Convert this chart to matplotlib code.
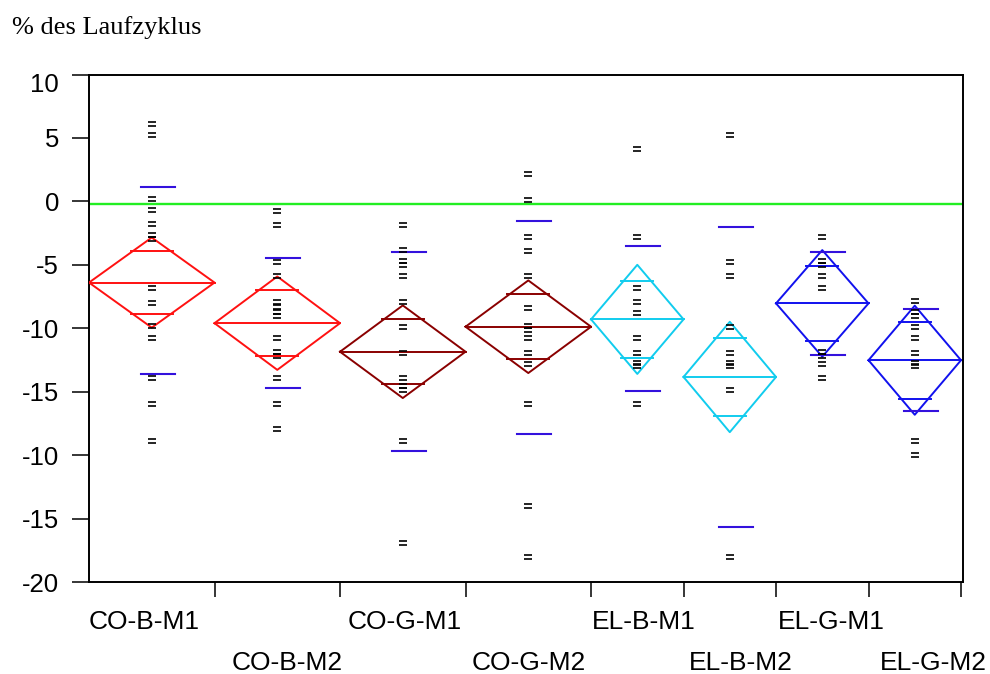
import matplotlib.pyplot as plt
import numpy as np
from matplotlib.path import Path
from matplotlib.transforms import ScaledTranslation

# data (JMP means diamonds)
groups = ['CO-B-M1', 'CO-B-M2', 'CO-G-M1', 'CO-G-M2',
          'EL-B-M1', 'EL-B-M2', 'EL-G-M1', 'EL-G-M2']
sizes = [19, 19, 19, 19, 14, 14, 14, 14]
means = [-6.4, -9.6, -11.85, -9.88, -9.3, -13.84, -8.04, -12.52]
ci_half = [3.55, 3.68, 3.65, 3.65, 4.3, 4.35, 4.2, 4.3]
sd_upper = [1.13, -4.44, -4.02, -1.54, -3.54, -2.01, -4.02, -8.48]
sd_lower = [-13.63, -14.74, -19.65, -18.3, -14.95, -25.7, -12.07, -16.53]
points = [
    [6.1, 5.2, 0.15, -0.7, -1.8, -2.65, -2.95, -6.85, -8.0, -9.85, -10.8,
     -13.95, -15.95, -18.85],
    [-0.75, -1.88, -4.79, -5.92, -7.9, -8.3, -8.7, -9.05, -10.78, -11.85,
     -12.15, -13.95, -15.95, -17.93],
    [-1.88, -3.86, -4.7, -5.0, -5.92, -7.93, -9.93, -11.94, -13.95,
     -14.55, -14.9, -18.86, -26.9],
    [2.16, 0.12, -2.78, -3.92, -5.92, -8.38, -9.8, -10.1, -10.8, -11.94,
     -12.84, -15.95, -24.0, -28.05],
    [4.14, -2.78, -6.82, -7.93, -8.8, -10.8, -11.94, -12.7, -13.0, -15.95],
    [5.27, -4.79, -5.92, -9.93, -11.94, -12.7, -13.0, -14.87, -28.02],
    [-2.78, -4.7, -5.0, -5.92, -6.82, -11.85, -12.15, -12.84, -13.95],
    [-7.87, -8.7, -9.05, -9.93, -10.8, -11.94, -12.7, -13.0, -18.86, -19.97],
]
ref_line = -0.2
y_ticks = [10, 5, 0, -5, -10, -15, -20, -25, -30]
y_labels = ['10', '5', '0', '-5', '-10', '-15', '-10', '-15', '-20']

colors = ['#ff1111', '#ff1111', '#8a0000', '#8a0000',
          '#11ccee', '#11ccee', '#1111ee', '#1111ee']
label_left_px = [89, 232, 348, 472, 592, 689, 778, 880]
label_row = [0, 1, 0, 1, 0, 1, 0, 1]

W, H = 990, 674
fig = plt.figure(figsize=(W / 100, H / 100), dpi=100)
ax = fig.add_axes([89 / W, (H - 582) / H, (963 - 89) / W, (582 - 74.5) / H])

total = sum(sizes)
px_per_unit = 872 / total
ax.set_xlim(0, 874 / px_per_unit)
ax.set_ylim(-30, 10)

# double-dash marker for points
eq_marker = Path([(-1, 0.45), (1, 0.45), (-1, -0.45), (1, -0.45)],
                 [Path.MOVETO, Path.LINETO, Path.MOVETO, Path.LINETO])

edges = np.concatenate([[0], np.cumsum(sizes)])
for i, g in enumerate(groups):
    left, right = edges[i], edges[i + 1]
    cx = (left + right) / 2
    hw = (right - left) / 2
    m, h, c = means[i], ci_half[i], colors[i]
    # diamond
    ax.plot([left, cx, right, cx, left], [m, m + h, m, m - h, m],
            color=c, lw=1.4, zorder=3)
    ax.plot([left, right], [m, m], color=c, lw=1.4, zorder=3)
    # overlap marks
    off = h / np.sqrt(2)
    half_w = hw * (1 - off / h) + 0.4
    for yy in (m + off, m - off):
        ax.plot([cx - half_w, cx + half_w], [yy, yy], color=c, lw=1.4, zorder=3)
    # std dev lines
    x0 = cx - 11 / px_per_unit
    x1 = cx + 23 / px_per_unit
    for yy in (sd_upper[i], sd_lower[i]):
        ax.plot([x0, x1], [yy, yy], color='#3311dd', lw=1.5, zorder=4)
    # points
    ax.plot([cx] * len(points[i]), points[i], ls='none', marker=eq_marker,
            ms=5.5, mew=1.2, color='black', zorder=5)

ax.axhline(ref_line, color='#22ee22', lw=1.7, zorder=2)

for s in ax.spines.values():
    s.set_linewidth(1.4)
    s.set_color('black')

ax.set_yticks(y_ticks)
ax.set_yticklabels(y_labels, family='Liberation Sans', fontsize=18.5)
ax.tick_params(axis='y', direction='out', length=12, width=1.1, pad=9.5)
ax.set_xticks(edges[1:])
ax.set_xticklabels([])
ax.tick_params(axis='x', direction='out', length=10.5, width=1.1)

lab10 = ax.get_yticklabels()[0]
lab10.set_transform(lab10.get_transform() +
                    ScaledTranslation(0, -8 / 100, fig.dpi_scale_trans))

for i, g in enumerate(groups):
    base = 629 if label_row[i] == 0 else 670
    fig.text(label_left_px[i] / W, 1 - base / H, g, family='Liberation Sans',
             fontsize=19, va='baseline', ha='left')

fig.text(12 / W, 1 - 34 / H, '% des Laufzyklus', family='Liberation Serif',
         fontsize=19, va='baseline', ha='left')

fig.savefig('out.png', dpi=100)
